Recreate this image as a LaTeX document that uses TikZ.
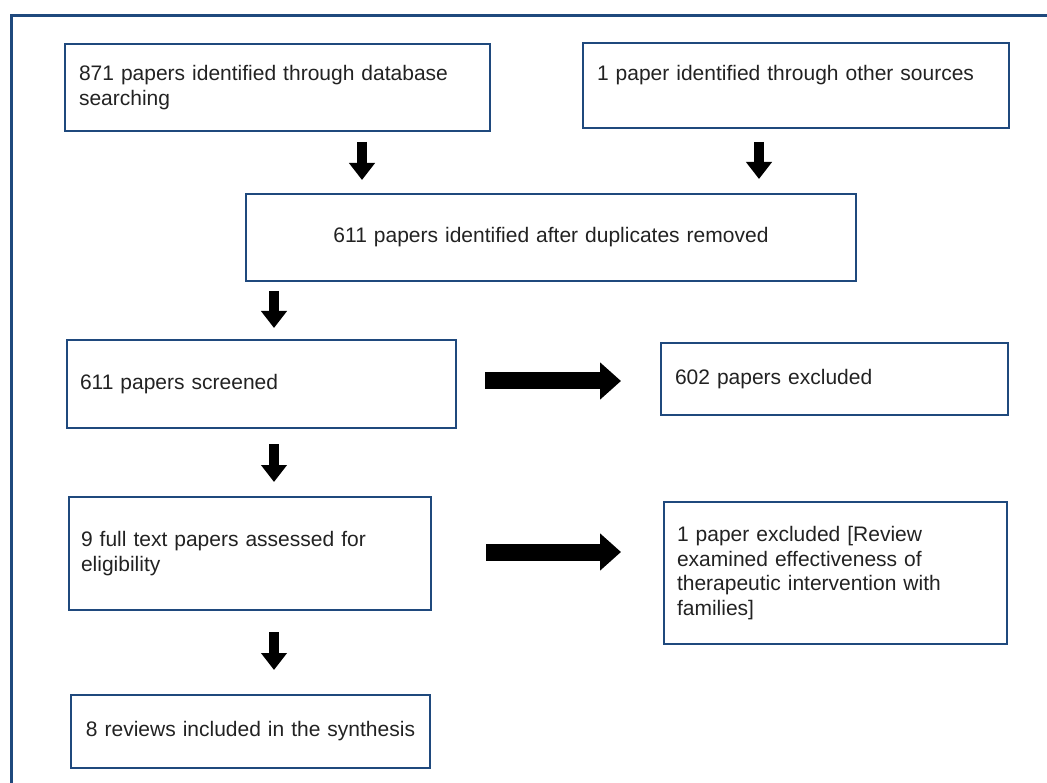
\documentclass[tikz,border=0pt]{standalone}
\usepackage{fontspec}
\setmainfont{Liberation Sans}
\usetikzlibrary{arrows.meta}
\definecolor{frameblue}{RGB}{31,73,125}
\definecolor{txt}{RGB}{34,34,34}
\begin{document}
\begin{tikzpicture}[x=1pt,y=-1pt,
  box/.style={draw=frameblue,line width=2pt,anchor=north west,inner xsep=14pt,inner ysep=0pt,
    font=\fontsize{21.0}{24.5}\selectfont,text=txt,align=left},
  downarrow/.style={line width=10pt,-{Triangle[width=25pt,length=17pt]}},
  rightarrow/.style={line width=17pt,-{Triangle[width=36pt,length=21pt]}}]
\useasboundingbox (0,0) rectangle (1047,783);
\clip (0,0) rectangle (1047,783);
\draw[frameblue,line width=3pt] (1060,16) -- (11,16) -- (11,800);

\node[box,minimum height=87pt,text width=397pt] (b1) at (64,43)
  {871 papers identified through database\\searching};
\node[box,minimum height=85pt,text width=398pt] (b2) at (582,42)
  {1 paper identified through other sources\\\mbox{}};
\node[box,minimum height=87pt,text width=582pt,align=center] (b3) at (245,193)
  {611 papers identified after duplicates removed};
\node[box,minimum height=88pt,text width=363pt,inner xsep=13pt] (b4) at (66,339)
  {611 papers screened};
\node[box,minimum height=72pt,text width=319pt] (b5) at (660,342)
  {602 papers excluded};
\node[box,minimum height=113pt,text width=338pt,inner xsep=12pt] (b6) at (68,496)
  {9 full text papers assessed for\\eligibility};
\node[box,minimum height=142pt,text width=317pt,inner xsep=13pt] (b7) at (663,501)
  {1 paper excluded [Review\\examined effectiveness of\\therapeutic intervention with\\families]};
\node[box,minimum height=73pt,text width=347pt,inner xsep=6pt,align=center] (b8) at (70,694)
  {8 reviews included in the synthesis};

\coordinate (a1s) at (362,142); \coordinate (a1e) at (362,180);
\coordinate (a2s) at (759,142); \coordinate (a2e) at (759,179);
\coordinate (a3s) at (274,291); \coordinate (a3e) at (274,328);
\coordinate (a4s) at (274,444); \coordinate (a4e) at (274,482);
\coordinate (a5s) at (274,632); \coordinate (a5e) at (274,670);
\coordinate (r1s) at (485,381); \coordinate (r1e) at (621,381);
\coordinate (r2s) at (486,552); \coordinate (r2e) at (621,552);

\draw[downarrow] (a1s) -- (a1e);
\draw[downarrow] (a2s) -- (a2e);
\draw[downarrow] (a3s) -- (a3e);
\draw[downarrow] (a4s) -- (a4e);
\draw[downarrow] (a5s) -- (a5e);
\draw[rightarrow] (r1s) -- (r1e);
\draw[rightarrow] (r2s) -- (r2e);
\end{tikzpicture}
\end{document}
